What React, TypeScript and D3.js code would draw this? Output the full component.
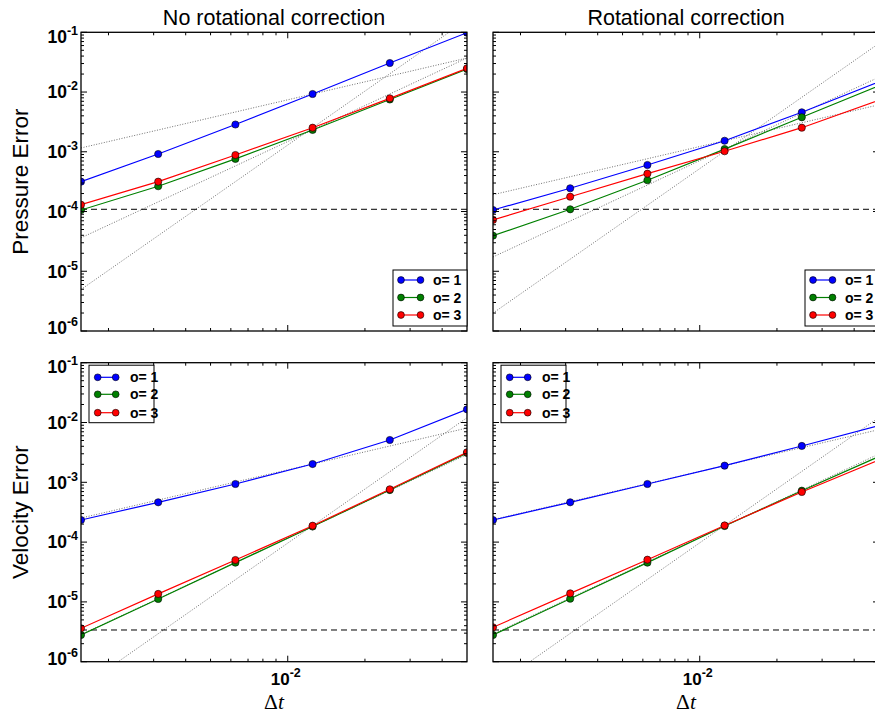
import React from "react";
import * as d3 from "d3";

// ---------- data ----------
const dt = [0.0015625, 0.003125, 0.00625, 0.0125, 0.025, 0.05];
const orders = [1, 2, 3];
const seriesColors = ["#0000ff", "#008000", "#ff0000"];

// Pressure error, no rotational correction
const pNoRotO1 = [3.16e-4, 9.18e-4, 2.86e-3, 9.27e-3, 3.06e-2, 9.85e-2];
const pNoRotO2 = [1.06e-4, 2.65e-4, 7.59e-4, 2.32e-3, 7.5e-3, 2.43e-2];
const pNoRotO3 = [1.3e-4, 3.16e-4, 8.83e-4, 2.53e-3, 7.85e-3, 2.5e-2];
// Pressure error, rotational correction
const pRotO1 = [1.06e-4, 2.45e-4, 6.01e-4, 1.53e-3, 4.58e-3, 1.49e-2];
const pRotO2 = [3.94e-5, 1.09e-4, 3.34e-4, 1.11e-3, 3.78e-3, 1.28e-2];
const pRotO3 = [7.23e-5, 1.77e-4, 4.3e-4, 1.02e-3, 2.53e-3, 7.31e-3];
// Velocity error, no rotational correction
const vNoRotO1 = [2.34e-4, 4.63e-4, 9.37e-4, 2.02e-3, 5.1e-3, 1.66e-2];
const vNoRotO2 = [2.8e-6, 1.12e-5, 4.53e-5, 1.82e-4, 7.42e-4, 3.09e-3];
const vNoRotO3 = [3.62e-6, 1.36e-5, 5.02e-5, 1.88e-4, 7.64e-4, 3.18e-3];
// Velocity error, rotational correction
const vRotO1 = [2.34e-4, 4.63e-4, 9.37e-4, 1.9e-3, 4.05e-3, 8.87e-3];
const vRotO2 = [2.8e-6, 1.13e-5, 4.53e-5, 1.86e-4, 7.24e-4, 2.7e-3];
const vRotO3 = [3.76e-6, 1.39e-5, 5.08e-5, 1.9e-4, 6.89e-4, 2.36e-3];

// reference slopes (dotted), anchored at the 4th time step of each series
const refSlopes = [1, 2, 3];
const refAnchorIndex = 3;

// horizontal dashed levels
const pressureLevel = 1.09e-4;
const velocityLevel = 3.39e-6;

const yTickExps = [-1, -2, -3, -4, -5, -6];
const xTickExps = [-2];
const yDomain: [number, number] = [1e-6, 1e-1];
const xDomain: [number, number] = [0.0015625, 0.05];

const colTitles = ["No rotational correction", "Rotational correction"];
const rowLabels = ["Pressure Error", "Velocity Error"];

// ---------- layout ----------
const W = 875;
const H = 713;
const cols = [
  { x0: 81, x1: 467 },
  { x0: 493, x1: 879 },
];
const rows = [
  { y0: 32.3, y1: 331 },
  { y0: 362.7, y1: 661.7 },
];

const panelData = [
  [
    { series: [pNoRotO1, pNoRotO2, pNoRotO3], level: pressureLevel, legend: "br" },
    { series: [pRotO1, pRotO2, pRotO3], level: pressureLevel, legend: "br" },
  ],
  [
    { series: [vNoRotO1, vNoRotO2, vNoRotO3], level: velocityLevel, legend: "tl" },
    { series: [vRotO1, vRotO2, vRotO3], level: velocityLevel, legend: "tl" },
  ],
];

const tickFont = "Liberation Sans, Arial, Helvetica, sans-serif";

function Panel({ r, c }: { r: number; c: number }) {
  const { x0, x1 } = cols[c];
  const { y0, y1 } = rows[r];
  const pd = panelData[r][c];
  const x = d3.scaleLog().domain(xDomain).range([x0, x1]);
  const y = d3.scaleLog().domain(yDomain).range([y1, y0]);
  const clipId = `clip-${r}-${c}`;
  const line = d3
    .line<number>()
    .x((_, i) => x(dt[i]))
    .y((v) => y(v));

  const minorY: number[] = [];
  for (let e = -6; e < -1 + 0.5; e++) {
    for (let k = 2; k <= 9; k++) {
      const v = k * Math.pow(10, e);
      if (v > yDomain[0] && v < yDomain[1]) minorY.push(v);
    }
  }
  const minorX: number[] = [];
  for (let e = -3; e <= -2; e++) {
    for (let k = 2; k <= 9; k++) {
      const v = k * Math.pow(10, e);
      if (v > xDomain[0] && v < xDomain[1]) minorX.push(v);
    }
  }
  const majLen = 6;
  const minLen = 3;
  const tickStroke = { stroke: "#000", strokeWidth: 1 };

  const leg =
    pd.legend === "br"
      ? { bx: x1 - 74, by: y1 - 61, bw: 74, bh: 56, ly: [y1 - 51, y1 - 33.5, y1 - 16], mx0: x1 - 66, mx1: x1 - 46.5, tx: x1 - 34 }
      : { bx: x0 + 8, by: y0 + 2.5, bw: 65, bh: 57.5, ly: [y0 + 14.6, y0 + 31.6, y0 + 50], mx0: x0 + 16.7, mx1: x0 + 34.7, tx: x0 + 49 };

  return (
    <g>
      <defs>
        <clipPath id={clipId}>
          <rect x={x0} y={y0} width={x1 - x0} height={y1 - y0} />
        </clipPath>
      </defs>
      <rect x={x0} y={y0} width={x1 - x0} height={y1 - y0} fill="#fff" />
      <g clipPath={`url(#${clipId})`}>
        {refSlopes.map((p, i) => {
          const s = pd.series[i];
          const a = s[refAnchorIndex];
          const ta = dt[refAnchorIndex];
          const f = (t: number) => a * Math.pow(t / ta, p);
          return (
            <line
              key={`ref${i}`}
              x1={x(xDomain[0])}
              y1={y(f(xDomain[0]))}
              x2={x(xDomain[1])}
              y2={y(f(xDomain[1]))}
              stroke="#707070"
              strokeWidth={1}
              strokeDasharray="1,1.6"
            />
          );
        })}
        <line x1={x0} x2={x1} y1={y(pd.level)} y2={y(pd.level)} stroke="#000" strokeWidth={1} strokeDasharray="6,4" />
        {pd.series.map((s, i) => (
          <g key={`s${i}`}>
            <path d={line(s) || ""} fill="none" stroke={seriesColors[i]} strokeWidth={1.2} />
            {s.map((v, j) => (
              <circle key={j} cx={x(dt[j])} cy={y(v)} r={3.6} fill={seriesColors[i]} stroke="#000" strokeWidth={0.6} />
            ))}
          </g>
        ))}
      </g>
      {minorY.map((v, i) => (
        <g key={`my${i}`}>
          <line x1={x0} x2={x0 + minLen} y1={y(v)} y2={y(v)} {...tickStroke} />
          <line x1={x1} x2={x1 - minLen} y1={y(v)} y2={y(v)} {...tickStroke} />
        </g>
      ))}
      {yTickExps.map((e) => {
        const v = Math.pow(10, e);
        return (
          <g key={`My${e}`}>
            <line x1={x0} x2={x0 + majLen} y1={y(v)} y2={y(v)} {...tickStroke} />
            <line x1={x1} x2={x1 - majLen} y1={y(v)} y2={y(v)} {...tickStroke} />
          </g>
        );
      })}
      {minorX.map((v, i) => (
        <g key={`mx${i}`}>
          <line x1={x(v)} x2={x(v)} y1={y1} y2={y1 - minLen} {...tickStroke} />
          <line x1={x(v)} x2={x(v)} y1={y0} y2={y0 + minLen} {...tickStroke} />
        </g>
      ))}
      {xTickExps.map((e) => {
        const v = Math.pow(10, e);
        return (
          <g key={`Mx${e}`}>
            <line x1={x(v)} x2={x(v)} y1={y1} y2={y1 - majLen} {...tickStroke} />
            <line x1={x(v)} x2={x(v)} y1={y0} y2={y0 + majLen} {...tickStroke} />
          </g>
        );
      })}
      <rect x={x0} y={y0} width={x1 - x0} height={y1 - y0} fill="none" stroke="#000" strokeWidth={1.3} />
      {c === 0 &&
        yTickExps.map((e, i) => {
          const v = Math.pow(10, e);
          let cy = y(v);
          if (i === 0) cy += 4;
          if (i === yTickExps.length - 1) cy -= 3.5;
          return (
            <text key={`yl${e}`} x={78} y={cy + 6.3} textAnchor="end" fontFamily={tickFont} fontWeight="bold" fontSize={17.5} fill="#000">
              10
              <tspan fontSize={12.5} dy={-8}>
                {String(e)}
              </tspan>
            </text>
          );
        })}
      {r === 1 &&
        xTickExps.map((e) => {
          const v = Math.pow(10, e);
          return (
            <text key={`xl${e}`} x={x(v) - 2} y={684.5} textAnchor="middle" fontFamily={tickFont} fontWeight="bold" fontSize={17} fill="#000">
              10
              <tspan fontSize={12.5} dy={-8}>
                {String(e)}
              </tspan>
            </text>
          );
        })}
      <rect x={leg.bx} y={leg.by} width={leg.bw} height={leg.bh} fill="#fff" stroke="#000" strokeWidth={1} />
      {orders.map((o, i) => (
        <g key={`lg${o}`}>
          <line x1={leg.mx0} x2={leg.mx1} y1={leg.ly[i]} y2={leg.ly[i]} stroke={seriesColors[i]} strokeWidth={1.2} />
          <circle cx={leg.mx0} cy={leg.ly[i]} r={3.4} fill={seriesColors[i]} stroke="#000" strokeWidth={0.6} />
          <circle cx={leg.mx1} cy={leg.ly[i]} r={3.4} fill={seriesColors[i]} stroke="#000" strokeWidth={0.6} />
          <text x={leg.tx} y={leg.ly[i] + 5} fontFamily={tickFont} fontWeight="bold" fontSize={14} fill="#000">
            {`o= ${o}`}
          </text>
        </g>
      ))}
    </g>
  );
}

export default function App() {
  return (
    <svg
      width={W}
      height={H}
      viewBox={`0 0 ${W} ${H}`}
      style={{ position: "absolute", left: 0, top: 0, background: "#fff" }}
    >
      <rect x={0} y={0} width={W} height={H} fill="#fff" />
      {rows.map((_, r) => cols.map((__, c) => <Panel key={`${r}-${c}`} r={r} c={c} />))}
      {colTitles.map((t, c) => (
        <text
          key={t}
          x={(cols[c].x0 + cols[c].x1) / 2}
          y={25}
          textAnchor="middle"
          fontFamily={tickFont}
          fontSize={21.5}
          fill="#000"
        >
          {t}
        </text>
      ))}
      {rowLabels.map((t, r) => {
        const cy = (rows[r].y0 + rows[r].y1) / 2;
        return (
          <text
            key={t}
            transform={`translate(28,${cy}) rotate(-90)`}
            textAnchor="middle"
            fontFamily={tickFont}
            fontSize={22.5}
            fill="#000"
          >
            {t}
          </text>
        );
      })}
      {cols.map((cc, c) => (
        <text
          key={`dt${c}`}
          x={(cc.x0 + cc.x1) / 2}
          y={709}
          textAnchor="middle"
          fontFamily="Liberation Serif, DejaVu Serif, serif"
          fontSize={21.5}
          fill="#000"
        >
          Δ<tspan fontStyle="italic">t</tspan>
        </text>
      ))}
    </svg>
  );
}
